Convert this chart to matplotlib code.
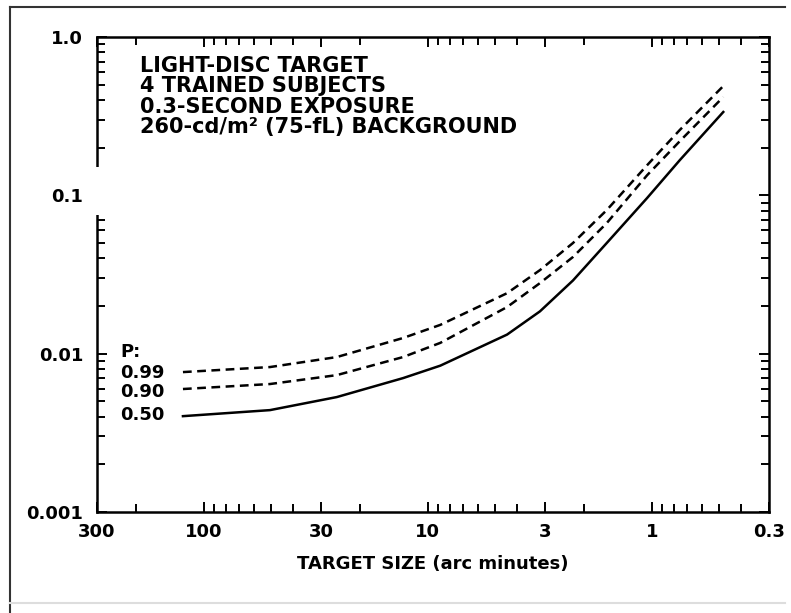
import numpy as np
import matplotlib.pyplot as plt
from matplotlib.lines import Line2D
from matplotlib.patches import Rectangle
from matplotlib.ticker import FixedLocator, LogLocator, NullFormatter

# target size (arc minutes) and threshold contrast for each probability
size = [124, 50.7, 25.5, 12.9, 8.8, 4.43, 3.16, 2.25, 1.59, 1.05, 0.75, 0.48]
p50 = [0.00403, 0.00440, 0.00532, 0.00701, 0.0084, 0.0132, 0.0185, 0.0290, 0.0500, 0.0962, 0.167, 0.336]
p90 = [0.00598, 0.00643, 0.00732, 0.00952, 0.0117, 0.0197, 0.0279, 0.0408, 0.0668, 0.134, 0.220, 0.418]
p99 = [0.00765, 0.00823, 0.00952, 0.01256, 0.0152, 0.0241, 0.0337, 0.0500, 0.0807, 0.155, 0.259, 0.490]

xticks = [300, 100, 30, 10, 3, 1, 0.3]
xticklabels = ['300', '100', '30', '10', '3', '1', '0.3']
yticks = [1.0, 0.1, 0.01, 0.001]
yticklabels = ['1.0', '0.1', '0.01', '0.001']

notes = ['LIGHT-DISC TARGET', '4 TRAINED SUBJECTS', '0.3-SECOND EXPOSURE',
         '260-cd/m\u00b2 (75-fL) BACKGROUND']
plabels = ['P:', '0.99', '0.90', '0.50']

plt.rcParams['font.family'] = ['DejaVu Sans']
plt.rcParams['font.weight'] = 'bold'

fig = plt.figure(figsize=(7.91, 6.13), dpi=100)
ax = fig.add_axes([97 / 791, 1 - 512 / 613, 672 / 791, 475 / 613])

ax.plot(size, p50, color='black', lw=1.8)
ax.plot(size, p90, color='black', lw=1.8, dashes=(3.5, 2.2))
ax.plot(size, p99, color='black', lw=1.8, dashes=(3.5, 2.2))

ax.set_xscale('log')
ax.set_yscale('log')
ax.set_xlim(300, 0.3)
ax.set_ylim(0.001, 1.0)

ax.xaxis.set_major_locator(FixedLocator(xticks))
ax.set_xticklabels(xticklabels)
ax.xaxis.set_minor_locator(LogLocator(base=10, subs=np.arange(2, 10)))
ax.xaxis.set_minor_formatter(NullFormatter())
ax.yaxis.set_major_locator(FixedLocator(yticks))
ax.set_yticklabels(yticklabels)
ax.yaxis.set_minor_locator(LogLocator(base=10, subs=np.arange(2, 10)))
ax.yaxis.set_minor_formatter(NullFormatter())

ax.tick_params(which='both', direction='in', top=True, right=True,
               width=1.4, color='black')
ax.tick_params(which='major', length=7)
ax.tick_params(which='minor', length=6)
ax.tick_params(axis='x', which='major', pad=8, labelsize=13)
ax.tick_params(axis='y', which='major', pad=10, labelsize=13)
for s in ax.spines.values():
    s.set_linewidth(1.8)

# gap in the left edge, as in the scanned original
ax.add_patch(Rectangle((-0.02, 0.075), 0.05, 0.075, transform=ax.get_yaxis_transform(),
                       facecolor='white', edgecolor='none', clip_on=False, zorder=5))

ax.set_xlabel('TARGET SIZE (arc minutes)', fontsize=13, fontweight='bold', labelpad=10)

for i, line in enumerate(notes):
    fig.text(140 / 791, 1 - (72 + 20.5 * i) / 613, line, fontsize=15, va='baseline')

for line, yb in zip(plabels, [357, 378, 397, 420]):
    fig.text(120 / 791, 1 - yb / 613, line, fontsize=13, va='baseline')

# outer frame of the scanned page
fig.add_artist(Line2D([10 / 791, 10 / 791], [1 - 7 / 613, 0.0], color='#333333', lw=1.5))
fig.add_artist(Line2D([10 / 791, 785 / 791], [1 - 7 / 613, 1 - 7 / 613], color='#333333', lw=1.5))
fig.add_artist(Line2D([10 / 791, 785 / 791], [1 - 603 / 613, 1 - 603 / 613], color='#dddddd', lw=1.5))

plt.savefig('out.png', dpi=100)
